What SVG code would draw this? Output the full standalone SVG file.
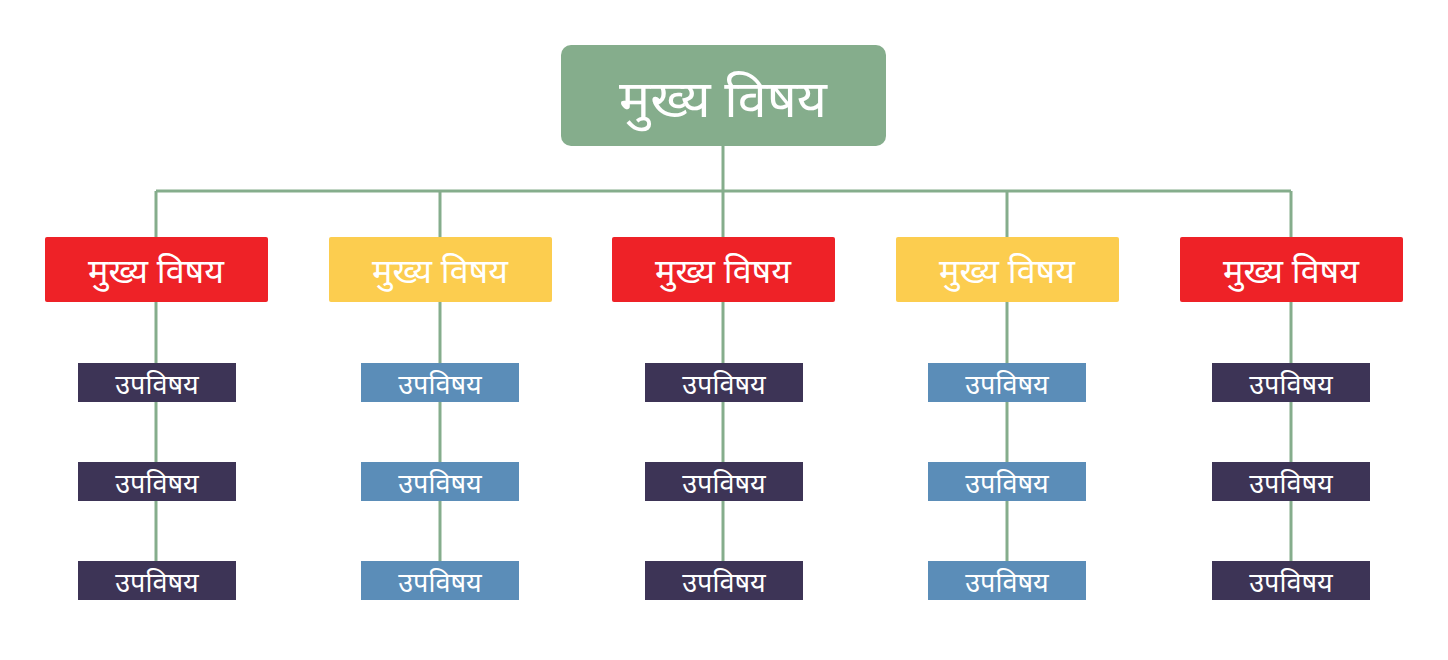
<svg xmlns="http://www.w3.org/2000/svg" width="1448" height="660" viewBox="0 0 1448 660">
<style>
text{font-family:"Noto Sans","Noto Sans Devanagari","Lohit Devanagari","DejaVu Sans",sans-serif;fill:#fff;text-anchor:middle;dominant-baseline:central}
.ln{stroke:#85ad8c;stroke-width:3;fill:none}
.root{fill:#85ad8c}
.red{fill:#ee2227}
.yel{fill:#fccd4f}
.dk{fill:#3d3456}
.bl{fill:#5b8db8}
.t0{font-size:52px}
.t1{font-size:34px}
.t2{font-size:27px}
</style>
<rect width="1448" height="660" fill="#fff"/>
<g id="connectors">
<path class="ln" d="M723 146V191M156 191H1291M156 191V561M440 191V561M723 191V561M1007 191V561M1291 191V561"/>
</g>
<g id="root"><rect class="root" x="561" y="45" width="325" height="101" rx="10"/><text class="t0" x="723" y="96">मुख्य विषय</text></g>
<g id="m1"><rect class="red" x="45" y="237" width="223" height="65" rx="2"/><text class="t1" x="156" y="270">मुख्य विषय</text></g>
<g id="m2"><rect class="yel" x="329" y="237" width="223" height="65" rx="2"/><text class="t1" x="440" y="270">मुख्य विषय</text></g>
<g id="m3"><rect class="red" x="612" y="237" width="223" height="65" rx="2"/><text class="t1" x="723" y="270">मुख्य विषय</text></g>
<g id="m4"><rect class="yel" x="896" y="237" width="223" height="65" rx="2"/><text class="t1" x="1007" y="270">मुख्य विषय</text></g>
<g id="m5"><rect class="red" x="1180" y="237" width="223" height="65" rx="2"/><text class="t1" x="1291" y="270">मुख्य विषय</text></g>
<g id="s1a"><rect class="dk" x="78" y="363" width="158" height="39"/><text class="t2" x="157" y="383">उपविषय</text></g>
<g id="s1b"><rect class="dk" x="78" y="462" width="158" height="39"/><text class="t2" x="157" y="482">उपविषय</text></g>
<g id="s1c"><rect class="dk" x="78" y="561" width="158" height="39"/><text class="t2" x="157" y="581">उपविषय</text></g>
<g id="s2a"><rect class="bl" x="361" y="363" width="158" height="39"/><text class="t2" x="440" y="383">उपविषय</text></g>
<g id="s2b"><rect class="bl" x="361" y="462" width="158" height="39"/><text class="t2" x="440" y="482">उपविषय</text></g>
<g id="s2c"><rect class="bl" x="361" y="561" width="158" height="39"/><text class="t2" x="440" y="581">उपविषय</text></g>
<g id="s3a"><rect class="dk" x="645" y="363" width="158" height="39"/><text class="t2" x="724" y="383">उपविषय</text></g>
<g id="s3b"><rect class="dk" x="645" y="462" width="158" height="39"/><text class="t2" x="724" y="482">उपविषय</text></g>
<g id="s3c"><rect class="dk" x="645" y="561" width="158" height="39"/><text class="t2" x="724" y="581">उपविषय</text></g>
<g id="s4a"><rect class="bl" x="928" y="363" width="158" height="39"/><text class="t2" x="1007" y="383">उपविषय</text></g>
<g id="s4b"><rect class="bl" x="928" y="462" width="158" height="39"/><text class="t2" x="1007" y="482">उपविषय</text></g>
<g id="s4c"><rect class="bl" x="928" y="561" width="158" height="39"/><text class="t2" x="1007" y="581">उपविषय</text></g>
<g id="s5a"><rect class="dk" x="1212" y="363" width="158" height="39"/><text class="t2" x="1291" y="383">उपविषय</text></g>
<g id="s5b"><rect class="dk" x="1212" y="462" width="158" height="39"/><text class="t2" x="1291" y="482">उपविषय</text></g>
<g id="s5c"><rect class="dk" x="1212" y="561" width="158" height="39"/><text class="t2" x="1291" y="581">उपविषय</text></g>
</svg>
